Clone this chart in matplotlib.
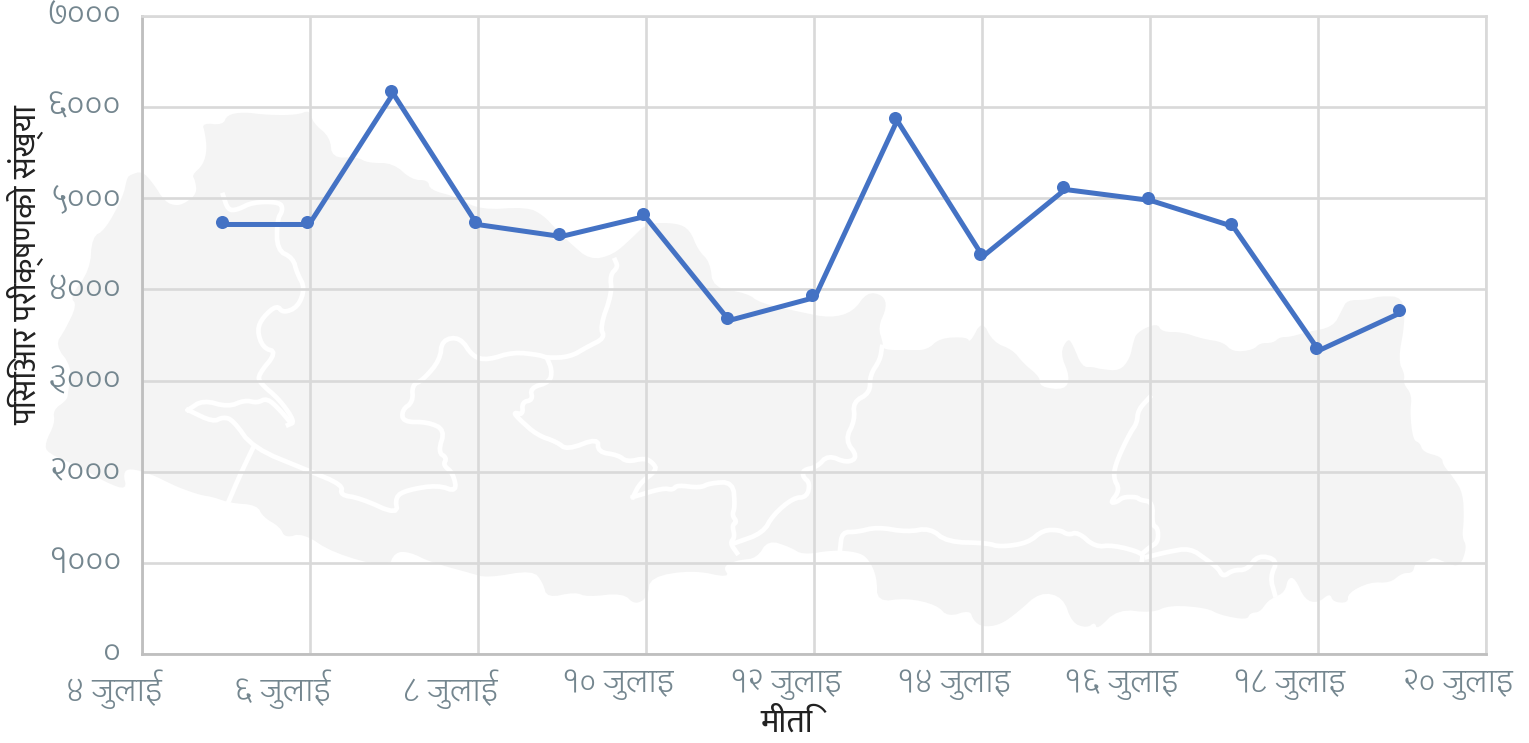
import matplotlib
matplotlib.use("Agg")
import matplotlib.pyplot as plt
from matplotlib.transforms import ScaledTranslation, offset_copy

# --- chart values ---
days = [4.95, 5.96, 6.96, 7.96, 8.96, 9.96, 10.96, 11.98, 12.96, 13.98, 14.96, 15.98, 16.96, 17.98, 18.96]
tests = [4740, 4740, 6177, 4740, 4608, 4828, 3687, 3939, 5881, 4389, 5124, 5003, 4718, 3357, 3774]

x_ticks = [4, 6, 8, 10, 12, 14, 16, 18, 20]
x_labels = ["४ जुलाई", "६ जुलाई", "८ जुलाई", "१० जुलाइ", "१२ जुलाइ", "१४ जुलाइ", "१६ जुलाइ", "१८ जुलाइ", "२० जुलाइ"]
y_ticks = [0, 1000, 2000, 3000, 4000, 5000, 6000, 7000]
y_labels = ["०", "१०००", "२०००", "३०००", "४०००", "५०००", "६०००", "७०००"]

# --- background map of Nepal, traced in picture pixels ---
map_outline = [
    (130,175),(142,171),(153,183),(165,202),(177,206),(187,202),(197,193),(195,180),(192,175),(203,165),
    (207,150),(205,133),(202,123),(223,125),(227,115),(243,112),(267,115),(297,115),(310,110),(313,123),
    (330,137),(332,158),(357,157),(368,163),(393,163),(412,180),(428,180),(430,190),(457,197),(480,210),
    (527,207),(543,215),(557,230),(570,243),(590,260),(613,255),(633,237),(647,223),(677,223),(690,230),
    (698,250),(710,262),(713,288),(747,293),(760,303),(800,312),(830,318),(853,312),(867,292),(883,295),
    (887,307),(878,327),(883,343),(883,350),(910,350),(927,350),(940,338),(967,337),(970,343),(982,320),
    (993,342),(1013,350),(1023,363),(1040,377),(1040,387),(1065,390),(1070,377),(1060,353),(1068,338),
    (1073,345),(1082,367),(1093,367),(1100,369),(1120,371),(1130,358),(1133,343),(1137,332),(1157,323),
    (1162,332),(1182,332),(1203,339),(1223,342),(1233,352),(1253,350),(1260,343),(1273,343),(1280,337),
    (1290,337),(1307,332),(1333,327),(1342,310),(1347,300),(1367,300),(1380,296),(1403,297),(1405,323),
    (1398,360),(1405,375),(1403,383),(1412,395),(1410,413),(1413,440),(1420,443),(1423,452),(1442,457),
    (1443,465),(1453,477),(1463,493),(1464,520),(1462,537),(1467,547),(1460,567),(1447,563),(1433,557),
    (1427,562),(1415,563),(1413,573),(1402,573),(1390,583),(1370,582),(1348,593),(1348,603),(1333,602),
    (1330,593),(1318,603),(1305,600),(1295,578),(1288,578),(1285,592),(1273,598),(1267,602),(1260,612),
    (1250,613),(1247,620),(1220,615),(1207,608),(1170,605),(1152,613),(1118,609),(1097,630),(1095,622),
    (1087,628),(1072,623),(1063,597),(1040,592),(1018,612),(1000,625),(982,627),(973,620),(970,610),
    (948,617),(937,605),(907,598),(877,602),(877,577),(868,558),(857,552),(833,550),(803,555),(790,547),
    (768,540),(757,558),(740,560),(733,562),(723,567),(730,578),(693,570),(650,577),(648,597),(635,605),
    (623,593),(587,597),(575,592),(547,598),(543,583),(533,570),(487,578),(470,573),(430,562),(410,552),
    (395,552),(388,568),(333,553),(303,533),(285,538),(280,527),(263,517),(257,505),(230,503),(213,497),
    (200,495),(180,488),(167,482),(153,475),(130,468),(123,473),(127,490),(107,483),(80,467),(47,453),
    (45,443),(55,423),(53,410),(67,400),(68,393),(72,367),(55,345),(65,330),(77,305),(70,297),(90,270),
    (92,237),(105,230),(123,197),(127,178),
]
map_borders = [
    [(223,195),(228,210),(237,210),(253,202),(280,202),(283,210),(277,220),(277,250),(293,258),(297,273),
     (305,288),(298,307),(283,313),(277,305),(263,317),(257,330),(263,348),(277,352),(258,375),(260,383),
     (280,400),(295,422),(288,425)],
    [(188,410),(203,400),(228,407),(245,400),(257,403),(267,398),(280,410),(290,422)],
    [(188,410),(213,422),(223,417),(233,420),(253,448),(307,470),(343,485),(340,495),(360,498),(398,515),
     (395,497),(407,490),(438,485),(457,492),(453,473),(443,465),(447,458),(438,452),(445,430),(428,422),
     (403,422),(402,410),(413,402),(412,385),(423,380),(440,360),(442,340),(460,337),(473,357),(488,360),
     (513,352),(540,355),(547,358),(570,357),(587,347),(605,338),(600,327),(612,293),(610,275),(618,267),(615,260)],
    [(253,448),(240,475),(228,503)],
    [(547,358),(552,370),(550,382),(530,388),(533,400),(522,402),(523,415),(513,412),(520,420),(537,435),
     (557,442),(567,450),(598,438),(598,452),(618,455),(627,462),(645,458),(653,463),(657,470),(640,483),(633,497)],
    [(633,497),(663,488),(673,490),(677,485),(700,488),(710,483),(733,482),(735,507),(732,515),(737,522),
     (732,525),(735,537),(730,543),(737,553)],
    [(735,543),(763,533),(773,515),(793,498),(807,497),(810,483),(803,477),(803,470),(817,467),(828,455),
     (847,463),(858,457),(845,440),(855,420),(853,402),(870,393),(870,375),(880,360),(882,347)],
    [(840,550),(842,532),(857,532),(877,527),(907,532),(930,528),(947,542),(987,543),(1000,547),(1028,543),
     (1043,530),(1060,530),(1068,535),(1078,532),(1095,547),(1113,545),(1143,553),(1142,560)],
    [(1143,553),(1150,547),(1158,542),(1158,528),(1152,525),(1153,502),(1140,500),(1137,497),(1123,497),
     (1117,502),(1110,503),(1120,490),(1113,477),(1117,460),(1130,433),(1137,423),(1138,410),(1150,397)],
    [(1147,557),(1167,552),(1190,548),(1207,560),(1218,568),(1223,577),(1233,570),(1247,570),(1258,555),
     (1278,560),(1270,577),(1275,595)],
]


def round_corners(points, closed=False):
    # one pass of corner cutting so the traced map is not so angular
    out = [] if closed else [points[0]]
    n = len(points)
    for i in range(n if closed else n - 1):
        (x0, y0), (x1, y1) = points[i], points[(i + 1) % n]
        out.append((0.75 * x0 + 0.25 * x1, 0.75 * y0 + 0.25 * y1))
        out.append((0.25 * x0 + 0.75 * x1, 0.25 * y0 + 0.75 * y1))
    if not closed:
        out.append(points[-1])
    return out


plt.rcParams['font.family'] = ['Mukta', 'DejaVu Sans']

W, H = 1529, 743
fig = plt.figure(figsize=(W / 100, H / 100), dpi=100, facecolor="white")

# map sits behind everything, in pixel coordinates
bg = fig.add_axes([0, 0, 1, 1], zorder=0)
bg.set_xlim(0, W)
bg.set_ylim(H, 0)
bg.axis("off")
shape = round_corners(round_corners(map_outline, closed=True), closed=True)
bg.fill([p[0] for p in shape], [p[1] for p in shape], color="#f4f4f4", lw=0)
for part in map_borders:
    part = round_corners(round_corners(part))
    bg.plot([p[0] for p in part], [p[1] for p in part], color="white", lw=3.4, solid_joinstyle="round")

ax = fig.add_axes([142 / W, 1 - 654 / H, (1486 - 142) / W, (654 - 16) / H], zorder=1)
ax.patch.set_alpha(0)
ax.set_xlim(4, 20)
ax.set_ylim(0, 7000)

ax.set_xticks(x_ticks)
ax.set_xticklabels(x_labels, family=['Glegoo', 'DejaVu Sans'])
ax.set_yticks(y_ticks)
ax.set_yticklabels(y_labels, family=['Glegoo', 'DejaVu Sans'])
ax.grid(True, color="#d9d9d9", lw=1.9)
ax.set_axisbelow(True)
ax.tick_params(length=0, labelcolor="#74868f")
ax.tick_params(axis="x", pad=11, labelsize=20)
ax.tick_params(axis="y", pad=15, labelsize=22)

for name in ["left", "bottom"]:
    ax.spines[name].set_color("#bfbfbf")
    ax.spines[name].set_linewidth(2)
for name in ["top", "right"]:
    ax.spines[name].set_color("#d9d9d9")
    ax.spines[name].set_linewidth(1.9)

# the labels sit left of their gridlines in the original
for label in ax.get_xticklabels():
    label.set_transform(label.get_transform() + ScaledTranslation(-28 / 100, 0, fig.dpi_scale_trans))
for label in ax.get_yticklabels():
    label.set_transform(label.get_transform() + ScaledTranslation(0, 2 / 100, fig.dpi_scale_trans))

# line is a little offset from its points in the original
line_tr = offset_copy(ax.transData, fig=fig, x=2.5, y=-2.5, units="dots")
ax.plot(days, tests, color="#4472c4", lw=3.6, transform=line_tr, solid_joinstyle="round", solid_capstyle="butt", zorder=3)
ax.plot(days, tests, ls="none", marker="o", ms=9.4, color="#4472c4", mew=0, zorder=4, clip_on=False)

fig.text(787 / W, 1 - 724 / H, "मीति", color="#222222", fontsize=24, ha="center", va="center")
fig.text(25 / W, 1 - 265 / H, "पिसिआर परीक्षणको संख्या", color="#222222", fontsize=23.5, rotation=90, ha="center", va="center")

fig.savefig("out.png", dpi=100)
